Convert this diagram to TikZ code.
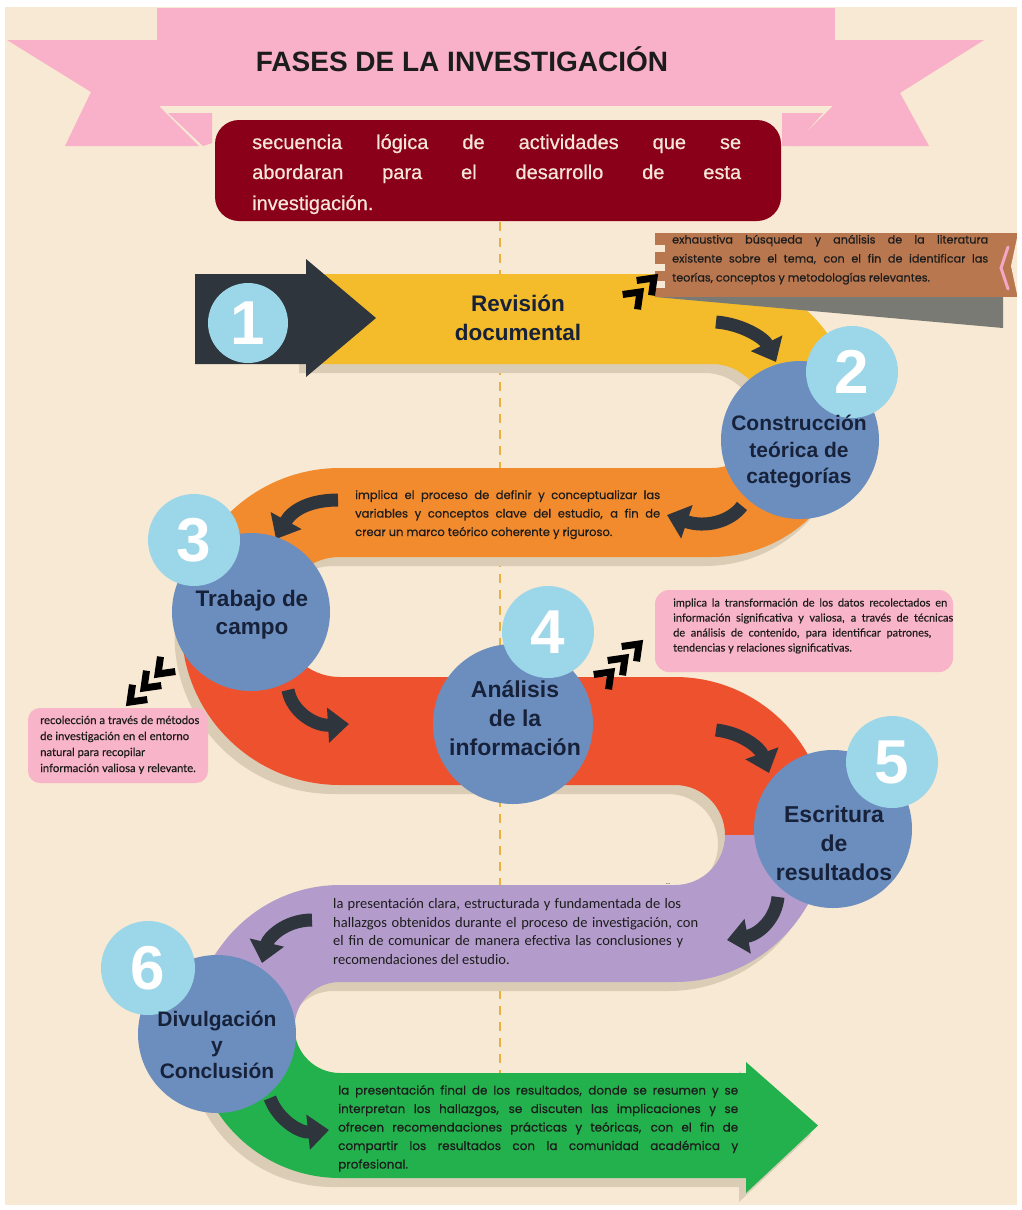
\documentclass[tikz,border=0pt]{standalone}
\usepackage{fontspec}
\setmainfont{Liberation Sans}
\newfontfamily\popp[FakeBold=0.5]{Poppins}
\newfontfamily\latof[FakeBold=0.3]{Lato}
\newfontfamily\carl{Carlito}
\newfontfamily\redf[FakeBold=0.6]{Liberation Sans}
\usetikzlibrary{arrows.meta}
\definecolor{bg}{HTML}{F7E9D3}
\definecolor{dashc}{HTML}{E8B23C}
\definecolor{ribbon}{HTML}{F9B0C9}
\definecolor{redbox}{HTML}{8B0019}
\definecolor{cream}{HTML}{F5E6D8}
\definecolor{yel}{HTML}{F4BC2B}
\definecolor{ora}{HTML}{F28B2D}
\definecolor{redb}{HTML}{EE512E}
\definecolor{purp}{HTML}{B39CCB}
\definecolor{gre}{HTML}{23B14D}
\definecolor{shad}{HTML}{DBCDB5}
\definecolor{darkarr}{HTML}{2F353C}
\definecolor{circb}{HTML}{6B8EBF}
\definecolor{numb}{HTML}{9CD6E9}
\definecolor{brown}{HTML}{B8774F}
\definecolor{wedge}{HTML}{7A7A75}
\definecolor{pinkb}{HTML}{F8B4C8}
\definecolor{txt}{HTML}{1C1C1C}
\definecolor{ctxt}{HTML}{17223A}
\definecolor{pinkchev}{HTML}{F2A7C4}
\def\snakepath{(306,274) -- (712,274) arc[start angle=90,end angle=-90,radius=141.5pt] -- (340,557) arc[start angle=90,end angle=270,radius=60pt] -- (675,677) arc[start angle=90,end angle=-90,radius=152.5pt] -- (340,982) arc[start angle=90,end angle=270,radius=45.5pt] -- (746,1073) -- (746,1062) -- (818,1125.5) -- (746,1193) -- (746,1178) -- (340,1178) arc[start angle=270,end angle=90,radius=146.5pt] -- (675,885) arc[start angle=-90,end angle=90,radius=50pt] -- (340,785) arc[start angle=270,end angle=90,radius=158.5pt] -- (712,468) arc[start angle=-90,end angle=90,radius=52pt] -- (306,364) -- cycle}
\begin{document}
\begin{tikzpicture}[x=1pt,y=-1pt,
  bigc/.style={circle, fill=circb, minimum size=158pt, inner sep=0pt},
  numc/.style={circle, fill=numb, minimum size=92pt, inner sep=0pt, text=white, font=\fontsize{62}{62}\selectfont\bfseries},
  ctext/.style={align=center, text=ctxt, inner sep=0pt},
  bodyline/.style={anchor=base west, inner sep=0pt, text=txt},
  carr/.style={draw=darkarr, line width=13pt, -{Triangle[width=34pt,length=21pt]}},
  chev/.style={draw=black, line width=7pt, miter limit=10},
]
\useasboundingbox (0,0) rectangle (1022,1210);
\fill[white] (0,0) rectangle (1022,1210);
\fill[bg] (5,7) rectangle (1017,1205);
% dashed guide
\draw[dashc, line width=2.5pt, dash pattern=on 9pt off 7pt] (500,222) -- (500,1100);
% ribbon
\fill[ribbon] (7,40) -- (160,40) -- (160,107) -- (199,146) -- (65,146) -- (91,92) -- cycle;
\fill[ribbon] (984,40) -- (832,40) -- (832,107) -- (792,146) -- (929,146) -- (900,93) -- cycle;
\fill[ribbon] (168,113) -- (212,113) -- (212,143) -- (203,146) -- cycle;
\fill[ribbon] (782,113) -- (823,113) -- (794,146) -- (782,146) -- cycle;
\fill[ribbon] (157,8) rectangle (835,106);
\node[anchor=base, inner sep=0pt, text=txt, font=\fontsize{28}{30}\selectfont\bfseries] (title) at (462,71) {FASES DE LA INVESTIGACIÓN};
% red box
\fill[redbox, rounded corners=24pt] (215,120) rectangle (781,221);
\node[anchor=base west, inner sep=0pt, text=cream, font=\redf\fontsize{20}{20}\selectfont] (r1) at (252,149) {\makebox[489pt][s]{secuencia lógica de actividades que se}};
\node[anchor=base west, inner sep=0pt, text=cream, font=\redf\fontsize{20}{20}\selectfont] (r2) at (252,179) {\makebox[489pt][s]{abordaran para el desarrollo de esta}};
\node[anchor=base west, inner sep=0pt, text=cream, font=\redf\fontsize{20}{20}\selectfont] (r3) at (252,210) {investigación.};
% snake
\fill[shad, shift={(-7,9)}] \snakepath;
\begin{scope}
\clip \snakepath;
\fill[yel] (0,0) rectangle (1022,440);
\fill[ora] (0,440) rectangle (1022,612);
\fill[redb] (0,612) rectangle (1022,835);
\fill[purp] (0,835) rectangle (1022,1037);
\fill[gre] (0,1037) rectangle (1022,1210);
\end{scope}
% dark start arrow
\fill[darkarr] (195,274) -- (306,274) -- (306,259) -- (376,318) -- (306,377) -- (306,364) -- (195,364) -- cycle;
\node[numc, minimum size=80pt] (n1) at (248,323) {1};
% brown note
\fill[wedge] (655,297) -- (1003,297) -- (1003,328) -- cycle;
\fill[brown] (655,233) rectangle (1017,297);
\fill[bg] (655,245) rectangle (665,252);
\fill[bg] (655,264) rectangle (665,271);
\fill[bg] (655,281) rectangle (665,288);
\fill[bg] (1017,238) -- (1011,266) -- (1017,294) -- cycle;
\draw[pinkchev, line width=3pt, line cap=round] (1008,247) -- (1001,268) -- (1008,289);
\foreach \t [count=\k] in {{\makebox[316pt][s]{exhaustiva búsqueda y análisis de la literatura}},{\makebox[316pt][s]{existente sobre el tema, con el fin de identificar las}},{teorías, conceptos y metodologías relevantes.}}
  \node[bodyline, font=\popp\fontsize{11.2}{12}\selectfont] (b\k) at (672,{224.5+19*\k}) {\t};
% pink notes
\fill[pinkb, rounded corners=14pt] (655,590) rectangle (953,672);
\fill[pinkb, rounded corners=12pt] (28,708) rectangle (208,783);
\foreach \t [count=\k] in {{\makebox[274pt][s]{implica la transformación de los datos recolectados en}},{\makebox[280pt][s]{información significativa y valiosa, a través de técnicas}},{\makebox[258pt][s]{de análisis de contenido, para identificar patrones,}},{tendencias y relaciones significativas.}}
  \node[bodyline, font=\latof\fontsize{11}{12}\selectfont] (p\k) at (673,{591.5+15*\k}) {\t};
\foreach \t [count=\k] in {{recolección a través de métodos},{de investigación en el entorno},{natural para recopilar},{información valiosa y relevante.}}
  \node[bodyline, font=\latof\fontsize{11.3}{12}\selectfont] (q\k) at (40,{708+16*\k}) {\t};
% chevrons
\foreach \p in {(640,292),(654,278)}
  \draw[chev, shift={\p}, rotate=45] (-14,10.5) -- (0,0) -- (-14,-10.5);
\foreach \p in {(130,702),(144,688),(158,674)}
  \draw[chev, shift={\p}, rotate=225] (-14,10.5) -- (0,0) -- (-14,-10.5);
\foreach \p in {(611,672),(625,658),(639,644)}
  \draw[chev, shift={\p}, rotate=45] (-14,10.5) -- (0,0) -- (-14,-10.5);
% band texts
\node[ctext, font=\fontsize{22.5}{29}\selectfont\bfseries] (t1) at (518,318) {Revisión\\documental};
\foreach \t [count=\k] in {{\makebox[305pt][s]{implica el proceso de definir y conceptualizar las}},{\makebox[305pt][s]{variables y conceptos clave del estudio, a fin de}},{crear un marco teórico coherente y riguroso.}}
  \node[bodyline, font=\popp\fontsize{11.5}{12}\selectfont] (o\k) at (355,{480.5+18.5*\k}) {\t};
\node[inner sep=0pt, text=txt, font=\fontsize{8}{8}\selectfont] (dots) at (668,884) {..};
\foreach \t [count=\k] in {{\makebox[348pt][s]{la presentación clara, estructurada y fundamentada de los}},{\makebox[365pt][s]{hallazgos obtenidos durante el proceso de investigación, con}},{\makebox[350pt][s]{el fin de comunicar de manera efectiva las conclusiones y}},{recomendaciones del estudio.}}
  \node[bodyline, font=\carl\fontsize{14.5}{15}\selectfont] (u\k) at (333,{890+18.5*\k}) {\t};
\foreach \t [count=\k] in {{\makebox[400pt][s]{la presentación final de los resultados, donde se resumen y se}},{\makebox[400pt][s]{interpretan los hallazgos, se discuten las implicaciones y se}},{\makebox[400pt][s]{ofrecen recomendaciones prácticas y teóricas, con el fin de}},{\makebox[400pt][s]{compartir los resultados con la comunidad académica y}},{profesional.}}
  \node[bodyline, font=\popp\fontsize{12}{12}\selectfont] (g\k) at (338,{1076+18.5*\k}) {\t};
% curved arrows
\draw[carr] (716,322) .. controls (742,324) and (764,338) .. (776,362);
\draw[carr] (742,506) .. controls (730,522) and (705,528) .. (667,515);
\draw[carr] (338,500) .. controls (310,500) and (292,510) .. (276,539);
\draw[carr] (288,690) .. controls (292,712) and (315,726) .. (349,724);
\draw[carr] (716,730) .. controls (742,733) and (760,748) .. (769,773);
\draw[carr] (778,897) .. controls (776,918) and (760,934) .. (727,940);
\draw[carr] (312,920) .. controls (285,920) and (268,938) .. (262,963);
\draw[carr] (270,1098) .. controls (278,1120) and (300,1133) .. (329,1130);
% circles
\node[bigc] (c2) at (800,440) {};
\node[numc] (n2) at (852,372) {2};
\node[ctext, font=\fontsize{21}{26.5}\selectfont\bfseries] (t2) at (799,452) {Construcción\\teórica de\\categorías};
\node[bigc] (c3) at (251,612) {};
\node[numc] (n3) at (194,540) {3};
\node[ctext, font=\fontsize{22.5}{28}\selectfont\bfseries] (t3) at (252,615) {Trabajo de\\campo};
\node[bigc, minimum size=160pt] (c4) at (513,724) {};
\node[numc] (n4) at (548,632) {4};
\node[ctext, font=\fontsize{23}{29}\selectfont\bfseries] (t4) at (515,718) {Análisis\\de la\\información};
\node[bigc] (c5) at (833,829) {};
\node[numc] (n5) at (892,762) {5};
\node[ctext, font=\fontsize{23}{29}\selectfont\bfseries] (t5) at (834,843) {Escritura\\de\\resultados};
\node[bigc] (c6) at (217,1034) {};
\node[numc, minimum size=94pt] (n6) at (148,968) {6};
\node[ctext, font=\fontsize{21}{26}\selectfont\bfseries] (t6) at (217,1045) {Divulgación\\y\\Conclusión};
\end{tikzpicture}
\end{document}
